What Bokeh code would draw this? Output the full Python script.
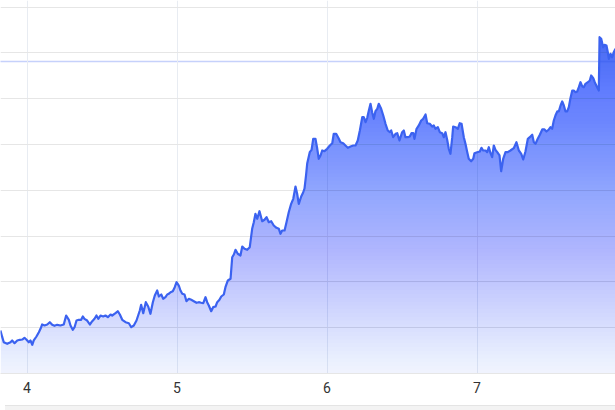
import numpy as np
from bokeh.plotting import figure
from bokeh.models import Range1d, FixedTicker, Div
from bokeh.layouts import column
from bokeh.embed import file_html
from bokeh.resources import INLINE

# ---- data ----
x_vals = [3.823, 3.835, 3.845, 3.868, 3.890, 3.901, 3.917, 3.935, 3.952, 3.968,
          3.983, 3.997, 4.012, 4.023, 4.035, 4.045, 4.063, 4.079, 4.090, 4.101,
          4.117, 4.135, 4.152, 4.168, 4.183, 4.201, 4.223, 4.245, 4.261, 4.279,
          4.290, 4.305, 4.317, 4.330, 4.345, 4.361, 4.372, 4.383, 4.401, 4.419,
          4.435, 4.450, 4.463, 4.475, 4.490, 4.508, 4.523, 4.539, 4.557, 4.568,
          4.590, 4.605, 4.619, 4.635, 4.657, 4.679, 4.695, 4.712, 4.730, 4.752,
          4.761, 4.775, 4.792, 4.808, 4.823, 4.839, 4.852, 4.868, 4.879, 4.895,
          4.908, 4.923, 4.935, 4.945, 4.957, 4.972, 4.985, 4.997, 5.012, 5.023,
          5.035, 5.050, 5.063, 5.079, 5.095, 5.112, 5.130, 5.145, 5.161, 5.175,
          5.190, 5.201, 5.212, 5.228, 5.241, 5.257, 5.268, 5.283, 5.295, 5.312,
          5.323, 5.339, 5.357, 5.368, 5.379, 5.390, 5.405, 5.423, 5.435, 5.450,
          5.468, 5.485, 5.501, 5.512, 5.523, 5.535, 5.550, 5.568, 5.583, 5.597,
          5.612, 5.628, 5.645, 5.663, 5.679, 5.690, 5.701, 5.717, 5.730, 5.745,
          5.761, 5.775, 5.790, 5.801, 5.812, 5.828, 5.841, 5.850, 5.860, 5.868,
          5.885, 5.897, 5.908, 5.923, 5.935, 5.945, 5.957, 5.968, 5.983, 6.001,
          6.019, 6.035, 6.045, 6.061, 6.079, 6.090, 6.108, 6.123, 6.139, 6.157,
          6.175, 6.190, 6.205, 6.219, 6.235, 6.245, 6.257, 6.268, 6.279, 6.290,
          6.301, 6.312, 6.323, 6.335, 6.345, 6.361, 6.375, 6.390, 6.405, 6.419,
          6.428, 6.441, 6.457, 6.468, 6.483, 6.501, 6.512, 6.523, 6.539, 6.552,
          6.563, 6.575, 6.583, 6.597, 6.612, 6.628, 6.641, 6.657, 6.668, 6.685,
          6.701, 6.712, 6.723, 6.739, 6.752, 6.768, 6.779, 6.790, 6.801, 6.812,
          6.823, 6.835, 6.841, 6.857, 6.872, 6.885, 6.897, 6.912, 6.923, 6.935,
          6.945, 6.961, 6.975, 6.983, 7.001, 7.019, 7.030, 7.041, 7.057, 7.068,
          7.079, 7.090, 7.101, 7.112, 7.123, 7.135, 7.150, 7.161, 7.175, 7.190,
          7.205, 7.223, 7.245, 7.263, 7.279, 7.295, 7.308, 7.323, 7.339, 7.352,
          7.368, 7.379, 7.390, 7.405, 7.419, 7.435, 7.450, 7.463, 7.479, 7.490,
          7.501, 7.512, 7.523, 7.535, 7.545, 7.557, 7.568, 7.579, 7.590, 7.601,
          7.612, 7.623, 7.635, 7.645, 7.657, 7.668, 7.679, 7.690, 7.701, 7.712,
          7.723, 7.739, 7.752, 7.761, 7.775, 7.785, 7.801, 7.812, 7.817, 7.828,
          7.841, 7.850, 7.863, 7.872, 7.879, 7.890, 7.901, 7.912, 7.923]

y_vals = [9.39, 7.93, 6.83, 6.48, 6.83, 7.21, 6.62, 7.21, 7.36, 7.42,
          7.79, 7.36, 6.83, 7.21, 6.27, 7.21, 8.08, 9.02, 9.76, 10.70,
          10.48, 10.70, 11.20, 10.63, 10.41, 10.63, 10.48, 10.70, 12.66, 11.72,
          10.48, 9.54, 10.11, 11.57, 11.72, 11.72, 12.45, 11.94, 11.57, 10.70,
          11.42, 11.94, 12.66, 11.94, 12.66, 12.45, 12.66, 12.29, 12.88, 12.66,
          13.17, 13.60, 12.88, 11.72, 11.20, 10.98, 10.11, 10.48, 11.57, 13.76,
          15.00, 13.17, 15.57, 14.63, 13.03, 15.57, 17.03, 18.12, 16.81, 17.25,
          16.31, 16.66, 17.25, 17.40, 17.75, 17.97, 18.84, 19.93, 19.21, 18.12,
          17.40, 17.25, 15.79, 16.31, 16.09, 15.79, 15.44, 15.57, 15.44, 15.35,
          16.66, 15.57, 14.85, 13.60, 14.48, 14.63, 15.57, 16.09, 16.81, 17.25,
          18.84, 20.31, 20.68, 25.39, 25.98, 27.01, 26.14, 25.76, 27.73, 27.23,
          27.01, 27.58, 31.59, 33.03, 34.87, 33.78, 35.44, 33.25, 33.56, 34.13,
          33.03, 33.25, 32.31, 31.81, 31.59, 30.50, 31.22, 31.22, 33.03, 35.22,
          37.05, 38.14, 40.83, 39.24, 37.05, 38.65, 39.52, 40.39, 43.23, 45.85,
          48.32, 48.84, 51.24, 51.24, 49.06, 46.88, 47.60, 48.69, 48.54, 49.06,
          49.78, 50.28, 52.34, 52.34, 51.24, 50.50, 50.28, 49.78, 49.28, 49.56,
          49.78, 49.78, 50.87, 53.06, 55.96, 55.96, 54.87, 55.83, 57.42, 58.89,
          57.05, 55.61, 57.27, 57.79, 58.89, 57.79, 56.33, 54.52, 53.06, 52.69,
          53.06, 51.59, 52.34, 52.47, 50.87, 52.69, 53.06, 51.59, 51.59, 51.75,
          52.47, 52.47, 51.24, 53.43, 54.15, 55.24, 55.61, 56.55, 54.65, 54.52,
          53.93, 54.15, 53.43, 53.78, 52.69, 52.47, 51.59, 52.69, 51.03, 49.06,
          47.97, 51.59, 53.93, 53.78, 53.43, 54.65, 54.52, 51.59, 50.15, 48.32,
          46.88, 46.35, 46.88, 48.10, 48.32, 48.47, 49.28, 48.69, 48.69, 48.32,
          49.41, 48.10, 47.23, 49.78, 48.84, 48.32, 47.60, 44.17, 46.94, 48.32,
          48.32, 48.69, 49.19, 50.50, 48.69, 47.97, 46.72, 48.47, 51.24, 51.59,
          52.12, 50.50, 50.15, 51.24, 52.12, 53.28, 53.28, 52.84, 53.28, 53.78,
          53.43, 55.24, 56.33, 57.21, 57.21, 58.52, 59.39, 58.52, 57.21, 57.21,
          58.14, 60.11, 61.79, 61.79, 61.42, 61.57, 62.51, 63.60, 62.73, 62.51,
          63.25, 63.60, 63.97, 65.07, 64.48, 63.60, 62.51, 61.79, 73.43, 73.08,
          71.24, 71.77, 71.62, 70.15, 68.71, 69.80, 69.06, 70.15, 70.90]

x_ticks = [4, 5, 6, 7]
y_grid_ticks = [0, 10, 20, 30, 40, 50, 60, 70, 80]
reference_level = 68.12

X_START, X_END = 3.8233, 7.9233
Y_START, Y_END = 0.0, 81.44
BLUE = "#3b62f0"

p = figure(width=615, height=400,
           x_range=Range1d(X_START, X_END), y_range=Range1d(Y_START, Y_END),
           output_backend="svg", toolbar_location=None,
           min_border_left=0, min_border_right=0, min_border_top=0,
           min_border_bottom=27)
p.outline_line_color = None
p.background_fill_color = "white"
p.border_fill_color = "white"

p.xaxis.ticker = FixedTicker(ticks=x_ticks)
p.yaxis.ticker = FixedTicker(ticks=y_grid_ticks)
p.yaxis.visible = False
p.xaxis.axis_line_color = "#e6e6e6"
p.xaxis.major_tick_line_color = None
p.xaxis.minor_tick_line_color = None
p.xaxis.major_tick_out = 0
p.xaxis.major_label_text_font = "Roboto"
p.xaxis.major_label_text_font_size = "14px"
p.xaxis.major_label_text_color = "#333333"
p.xaxis.major_label_standoff = 8

p.xgrid.grid_line_color = "#e8ecf2"
p.ygrid.grid_line_color = "#e6e6e6"
p.xgrid.grid_line_width = 1
p.ygrid.grid_line_width = 1

# dotted reference line (underneath the fill)
p.line(x=[X_START, X_END], y=[reference_level, reference_level],
       line_color="#8da2f6", line_width=1.3, line_dash="1 1", level="underlay")

# gradient fill: stacked translucent layers
y_arr = np.array(y_vals)

def alpha_at(h):
    return 0.08 + 0.87 * h / Y_END

levels = np.linspace(0, y_arr.max(), 90)
prev = 0.0
for h in levels:
    a = alpha_at(h)
    step = 1 - (1 - a) / (1 - prev)
    p.varea(x=x_vals, y1=np.minimum(y_arr, h), y2=y_arr,
            fill_color=BLUE, fill_alpha=float(step))
    prev = a

p.line(x_vals, y_vals, line_color=BLUE, line_width=2.2, line_join="round")

# light grey strip at the very bottom of the page
strip = Div(text="", width=615, height=10,
            styles={"background-color": "#f3f3f3",
                    "border-top": "1px solid #e4e4e4",
                    "box-sizing": "border-box"})

layout = column(p, strip, spacing=0)

open("out.html", "w").write(file_html(layout, INLINE))
